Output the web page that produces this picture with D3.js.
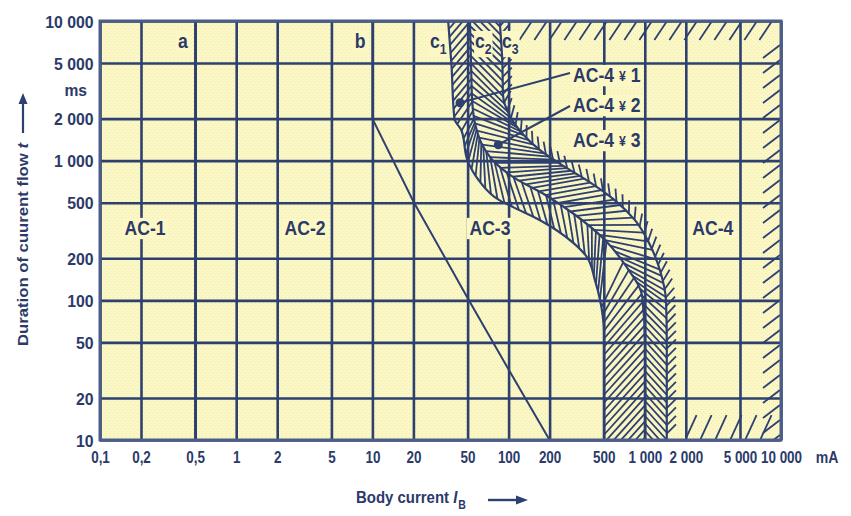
<!DOCTYPE html>
<html><head><meta charset="utf-8">
<script src="https://cdn.jsdelivr.net/npm/d3@7"></script>
<style>body{margin:0;background:#fff}</style>
</head><body><svg id="c" width="851" height="516"></svg>
<script>
// ---------------- data ----------------
const xTicks = [0.1,0.2,0.5,1,2,5,10,20,50,100,200,500,1000,2000,5000,10000];
const xTickLabels = ["0,1","0,2","0,5","1","2","5","10","20","50","100","200","500","1 000","2 000","5 000","10 000"];
const yTicks = [10,20,50,100,200,500,1000,2000,5000,10000];
const yTickLabels = ["10","20","50","100","200","500","1 000","2 000","5 000","10 000"];
const curveA = [[0.5,10],[0.5,10000]];
const curveB = [[10,10000],[10,2000],[20,510],[50,104],[100,32],[200,10]];
const curveC1 = [[36,10000],[38,5000],[40,2000],[45,1650],[50,1000],[60,730],[86,520],[108,465],[170,375],[300,257],[375,205],[430,140],[470,100],[500,60],[500,10]];
const curveC2 = [[52,10000],[53,5000],[54,2700],[57,1800],[64,1300],[80,960],[111,750],[185,570],[307,410],[510,270],[715,180],[960,105],[1000,50],[1000,10]];
const curveC3 = [[86,10000],[90,5000],[91,2950],[102,2100],[125,1580],[170,1190],[247,930],[396,700],[604,520],[847,375],[1090,250],[1290,165],[1430,100],[1450,52],[1450,10]];
const zoneLabels = ["AC-1","AC-2","AC-3","AC-4"];
const zoneLabelAt = [[0.214,330],[3.2,330],[73,330],[3160,330]];
const annoLabels = ["1","2","3"];
const annoDots = [[44,2600],[84,1300]];

// ---------------- setup ----------------
const FONT = "'Liberation Sans', Arial, Helvetica, sans-serif";
const NAVY = "#2d4070", TXT = "#2b3a68", BG = "#fcf8c6";
const svg = d3.select("#c");
const x = d3.scaleLog().domain([0.1,10000]).range([100,781]);
const y = d3.scaleLog().domain([10,10000]).range([440,21]);
const [X0,X1] = x.range(), [Y1,Y0] = y.range();

const defs = svg.append("defs");
defs.append("clipPath").attr("id","plotclip").append("rect")
  .attr("x",X0).attr("y",Y0).attr("width",X1-X0).attr("height",Y1-Y0);
const pat = defs.append("pattern").attr("id","dots").attr("width",4).attr("height",4).attr("patternUnits","userSpaceOnUse");
pat.append("rect").attr("x",1).attr("y",1).attr("width",1).attr("height",1).attr("fill","#e4dca0").attr("opacity",0.7);
pat.append("rect").attr("x",3).attr("y",3).attr("width",1).attr("height",1).attr("fill","#efe8b4").attr("opacity",0.7);

const gBg = svg.append("g");
const gGrid = svg.append("g");
const gHatch = svg.append("g").attr("clip-path","url(#plotclip)");
const gLab = svg.append("g");
const gCurves = svg.append("g").attr("clip-path","url(#plotclip)");
const gAnno = svg.append("g");
const gFrame = svg.append("g");

gBg.append("rect").attr("x",X0).attr("y",Y0).attr("width",X1-X0).attr("height",Y1-Y0).attr("fill",BG);
gBg.append("rect").attr("x",X0).attr("y",Y0).attr("width",X1-X0).attr("height",Y1-Y0).attr("fill","url(#dots)");

// ---------------- axes / grid ----------------
const xa = gGrid.append("g").attr("transform",`translate(0,${Y1})`)
  .call(d3.axisBottom(x).tickValues(xTicks).tickSize(-(Y1-Y0)).tickFormat((d,i)=>xTickLabels[i]));
const ya = gGrid.append("g").attr("transform",`translate(${X0},0)`)
  .call(d3.axisLeft(y).tickValues(yTicks).tickSize(-(X1-X0)).tickFormat((d,i)=>yTickLabels[i]));
[xa,ya].forEach(a=>{
  a.select(".domain").remove();
  a.selectAll(".tick line").attr("stroke",NAVY).attr("stroke-width",2.6);
  a.selectAll(".tick text").attr("fill",TXT).attr("font-family",FONT).attr("font-weight","bold");
});
xa.selectAll(".tick text").attr("y",23).attr("dy",0).attr("font-size",16).attr("transform","scale(0.84,1)");
ya.selectAll(".tick text").attr("x",-7).attr("dy","0.36em").attr("font-size",17).attr("transform","scale(0.93,1)");

// ---------------- curves ----------------
const lineStraight = d3.line().x(d=>x(d[0])).y(d=>y(d[1]));
const lineSmooth = d3.line().x(d=>x(d[0])).y(d=>y(d[1])).curve(d3.curveMonotoneY);
function addCurve(gen,data,w){
  return gCurves.append("path").attr("d",gen(data)).attr("fill","none")
    .attr("stroke",NAVY).attr("stroke-width",w).attr("stroke-linejoin","round");
}
addCurve(lineStraight,curveA,2.2);
addCurve(lineStraight,curveB,2);
const p1 = addCurve(lineSmooth,curveC1,2.2).node();
const p2 = addCurve(lineSmooth,curveC2,2.2).node();
const p3 = addCurve(lineSmooth,curveC3,2.2).node();

function sampler(el){
  const L = el.getTotalLength(), pts=[];
  for(let s=0;s<=L;s+=1){const p=el.getPointAtLength(s);pts.push([p.x,p.y,s]);}
  const at = s=>{
    if(s<0){const p=el.getPointAtLength(0);return [p.x,p.y+s];}
    if(s>L){const p=el.getPointAtLength(L);return [p.x,p.y+(s-L)];}
    const p=el.getPointAtLength(s);return [p.x,p.y];
  };
  return {L,pts,at};
}
const C1=sampler(p1), C2=sampler(p2), C3=sampler(p3);

function rungs(A,B,gap,k){
  function rungAt(s){
    const p=A.at(s); let best=1e12,bj=0;
    for(let j=0;j<B.pts.length;j++){const q=B.pts[j];const d=(q[0]-p[0])**2+(q[1]-p[1])**2;if(d<best){best=d;bj=j;}}
    const d=Math.sqrt(best); const q=B.at(B.pts[bj][2]+k*d);
    return [p[0],p[1],q[0],q[1]];
  }
  const r0=rungAt(0), r1=rungAt(A.L), segs=[];
  for(let s=-160;s<A.L+160;s+=gap){
    if(s<0) segs.push([r0[0],r0[1]+s,r0[2],r0[3]+s]);
    else if(s>A.L){const o=s-A.L;segs.push([r1[0],r1[1]+o,r1[2],r1[3]+o]);}
    else segs.push(rungAt(s));
  }
  return segs;
}
function bandClip(id,A,B){
  const poly = A.pts.map(p=>[p[0],p[1]]).concat(B.pts.slice().reverse().map(p=>[p[0],p[1]]));
  defs.append("clipPath").attr("id",id).append("polygon").attr("points",poly.map(p=>p.join(",")).join(" "));
}
function drawSegs(g,segs,w){
  g.selectAll(null).data(segs).join("line")
    .attr("x1",d=>d[0]).attr("y1",d=>d[1]).attr("x2",d=>d[2]).attr("y2",d=>d[3])
    .attr("stroke",NAVY).attr("stroke-width",w).attr("stroke-linecap","butt");
}
bandClip("band1",C1,C2);
bandClip("band2",C2,C3);
drawSegs(gHatch.append("g").attr("clip-path","url(#band1)"), rungs(C1,C2,8,-1.1), 1.8);
drawSegs(gHatch.append("g").attr("clip-path","url(#band2)"), rungs(C2,C3,7.5,1.1), 1.8);

// teeth along c3 (AC-4.3 side)
const teeth=[];
for(let s=5;s<C3.L;s+=8.5){
  const p=C3.at(s), a=C3.at(Math.max(0,s-1.5)), b=C3.at(Math.min(C3.L,s+1.5));
  let tx=b[0]-a[0], ty=b[1]-a[1]; const n=Math.hypot(tx,ty)||1; tx/=n; ty/=n;
  const nx=ty, ny=-tx, c=Math.SQRT1_2, L=13;
  teeth.push([p[0],p[1],p[0]+L*(c*nx-c*tx),p[1]+L*(c*ny-c*ty)]);
}
drawSegs(gHatch.append("g"),teeth,1.8);

// border hatching of the AC-4 zone
const border=[];
for(let xx=x(120)+12;xx<X1-4;xx+=15) border.push([xx,Y0+1,xx-12,Y0+19]);
for(let yy=Y0+24;yy<Y1-4;yy+=15) border.push([X1-1,yy,X1-18,yy+13]);
for(let xx=x(1800)+6;xx<X1-8;xx+=15) border.push([xx,Y1-1,xx+11,Y1-25]);
drawSegs(gHatch.append("g"),border,1.8);

// ---------------- labels ----------------
function addLabel(px,py,build,{size=20,sx=0.88,anchor="middle",pad=3}={}){
  const g=gLab.append("g").attr("transform",`translate(${px},${py}) scale(${sx},1)`);
  const t=g.append("text").attr("text-anchor",anchor).attr("font-size",size)
    .attr("font-weight","bold").attr("fill",TXT).attr("font-family",FONT);
  build(t);
  const b=t.node().getBBox();
  g.insert("rect","text").attr("x",b.x-pad).attr("y",b.y+1).attr("width",b.width+2*pad).attr("height",b.height-1).attr("fill",BG);
  return g;
}
zoneLabels.forEach((s,i)=>addLabel(x(zoneLabelAt[i][0]),y(zoneLabelAt[i][1])+7,t=>t.text(s)));
addLabel(183,48,t=>t.text("a"));
addLabel(360,48,t=>t.text("b"));
function cLab(px,n){
  addLabel(px,48,t=>{t.append("tspan").text("c");t.append("tspan").attr("font-size",14).attr("dy",6).text(n);},{anchor:"start",pad:1});
}
cLab(430,"1"); cLab(475,"2"); cLab(502,"3");
const annoY=[82,112,147];
annoLabels.forEach((n,i)=>addLabel(573,annoY[i],t=>{
  t.append("tspan").text("AC-4 ");
  t.append("tspan").attr("font-size",14).attr("dy",-1).text("¥");
  t.append("tspan").attr("dy",1).text(" "+n);
},{anchor:"start",sx:0.88,pad:2}));

// leader lines and dots
const leaderEnd=[[570,73],[570,106]];
annoDots.forEach((d,i)=>{
  gAnno.append("line").attr("x1",x(d[0])).attr("y1",y(d[1])).attr("x2",leaderEnd[i][0]).attr("y2",leaderEnd[i][1])
    .attr("stroke",NAVY).attr("stroke-width",2);
  gAnno.append("circle").attr("cx",x(d[0])).attr("cy",y(d[1])).attr("r",4.5).attr("fill",NAVY);
});

// units
gAnno.append("text").attr("transform","translate(87,96) scale(0.92,1)").attr("text-anchor","end")
  .attr("font-size",17).attr("font-weight","bold").attr("fill",TXT).attr("font-family",FONT).text("ms");
gAnno.append("text").attr("transform",`translate(${X1+46},463) scale(0.88,1)`).attr("text-anchor","middle")
  .attr("font-size",16).attr("font-weight","bold").attr("fill",TXT).attr("font-family",FONT).text("mA");

// axis titles
const yt=gAnno.append("text").attr("transform","translate(28,346) rotate(-90)")
  .attr("font-size",15).attr("font-weight","bold").attr("fill",TXT).attr("font-family",FONT)
  .attr("textLength",203).attr("lengthAdjust","spacingAndGlyphs");
yt.append("tspan").text("Duration of cuurent flow ");
yt.append("tspan").attr("font-style","italic").text("t");
gAnno.append("line").attr("x1",23).attr("x2",23).attr("y1",133).attr("y2",102).attr("stroke",NAVY).attr("stroke-width",2.2);
gAnno.append("path").attr("d","M23,93 L18.5,104 L27.5,104 Z").attr("fill",NAVY);

const xt=gAnno.append("text").attr("transform","translate(356,503) scale(0.88,1)")
  .attr("font-size",17).attr("font-weight","bold").attr("fill",TXT).attr("font-family",FONT);
xt.append("tspan").text("Body current ");
xt.append("tspan").attr("font-style","italic").text("I");
xt.append("tspan").attr("font-size",12).attr("dy",6).attr("dx",1).text("B");
gAnno.append("line").attr("x1",488).attr("x2",517).attr("y1",500).attr("y2",500).attr("stroke",NAVY).attr("stroke-width",2.4);
gAnno.append("path").attr("d","M528,500 L516,495.5 L516,504.5 Z").attr("fill",NAVY);

// frame
gFrame.append("rect").attr("x",X0).attr("y",Y0).attr("width",X1-X0).attr("height",Y1-Y0)
  .attr("fill","none").attr("stroke","#4b5d88").attr("stroke-width",3);
</script>
</body></html>
